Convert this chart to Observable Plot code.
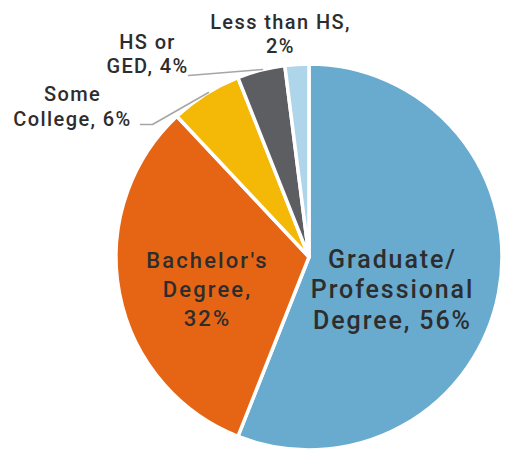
<!DOCTYPE html>
<html>
<head>
<meta charset="utf-8">
<script src="https://cdn.jsdelivr.net/npm/d3@7"></script>
<script src="https://cdn.jsdelivr.net/npm/@observablehq/plot@0.6"></script>
<style>
  html, body { margin: 0; padding: 0; background: #fff; }
  #chart { width: 508px; height: 455px; }
</style>
</head>
<body>
<div id="chart"></div>
<script>
// ---- data ----
const categories = ["Graduate/Professional Degree", "Bachelor's Degree", "Some College", "HS or GED", "Less than HS"];
const shares = [56, 32, 6, 4, 2];
const labelLines = [
  ["Graduate/", "Professional", "Degree, 56%"],
  ["Bachelor's", "Degree,", "32%"],
  ["Some", "College, 6%"],
  ["HS or", "GED, 4%"],
  ["Less than HS,", "2%"]
];
const colors = ["#69aacf", "#e66515", "#f4b806", "#5c5e62", "#aed5ea"];

// ---- layout (pixel space) ----
const W = 508, H = 455;
const cx = 309, cy = 257, R = 193;
// label anchor positions (center x, first baseline y), font sizes, line heights
const labelX = [392, 207, 72, 147, 280];
const labelY = [267, 267, 100, 48, 28];
const labelSize = [25, 22, 20, 20, 20];
const labelLH = [30.5, 29, 25, 24, 24];
const spacingBySize = {25: 1.9, 22: 2.1, 20: 1.4};
// leader lines
const leaders = [
  {cat: "Some College", pts: [[140, 124], [152, 124], [208, 92]]},
  {cat: "HS or GED", pts: [[188, 75], [262, 69]]}
];

const data = categories.map((c, i) => ({category: c, value: shares[i], color: colors[i]}));
const arcs = d3.pie().sort(null).value(d => d.value)(data);

const textRows = [];
labelLines.forEach((lines, i) => {
  lines.forEach((t, j) => textRows.push({
    text: t, x: labelX[i], y: labelY[i] + j * labelLH[i], size: labelSize[i]
  }));
});
const leaderRows = [];
leaders.forEach(l => l.pts.forEach(p => leaderRows.push({cat: l.cat, x: p[0], y: p[1]})));

const arcGen = d3.arc().innerRadius(0);

const chart = Plot.plot({
  width: W,
  height: H,
  margin: 0,
  x: {domain: [0, W], range: [0, W], axis: null},
  y: {domain: [0, H], range: [0, H], axis: null},
  style: {fontFamily: "Roboto, sans-serif", background: "#fff"},
  marks: [
    // pie slices drawn through the x/y scales
    (index, scales) => {
      const g = d3.create("svg:g");
      const px = scales.x(cx), py = scales.y(cy);
      const pr = scales.x(cx + R) - px;
      g.attr("transform", `translate(${px},${py})`);
      g.selectAll("path")
        .data(arcs)
        .join("path")
        .attr("d", d => arcGen.outerRadius(pr)(d))
        .attr("fill", d => d.data.color)
        .attr("stroke", "#fff")
        .attr("stroke-width", 3.5)
        .attr("stroke-linejoin", "round");
      return g.node();
    },
    Plot.line(leaderRows, {x: "x", y: "y", z: "cat", stroke: "#a6a6a6", strokeWidth: 1.5}),
    ...[25, 22, 20].map(s => Plot.text(textRows.filter(d => d.size === s), {
      x: "x", y: "y", text: "text", fontSize: s, fill: "#2d2d2d",
      textAnchor: "middle", lineAnchor: "bottom", fontWeight: 500
    }))
  ]
});
d3.select(chart).selectAll("g[font-size]").each(function() {
  const s = +this.getAttribute("font-size");
  if (spacingBySize[s] != null) this.setAttribute("letter-spacing", spacingBySize[s] + "px");
});
document.getElementById("chart").appendChild(chart);
</script>
</body>
</html>
